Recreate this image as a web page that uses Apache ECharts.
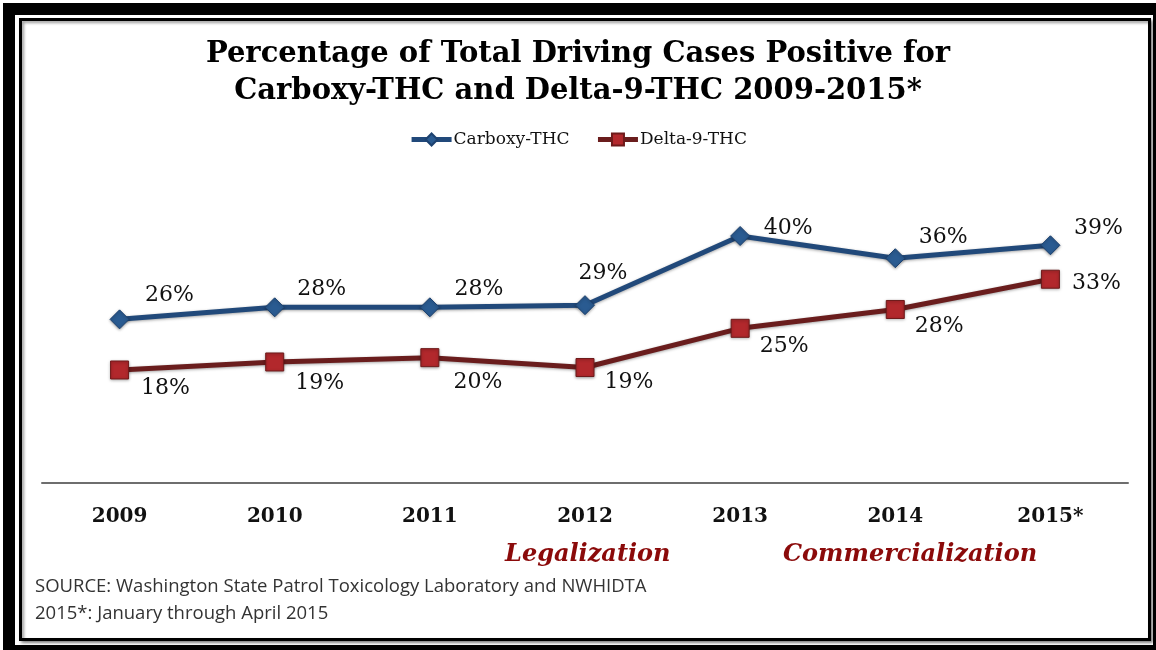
<!DOCTYPE html>
<html>
<head>
<meta charset="utf-8">
<script src="https://cdn.jsdelivr.net/npm/echarts@6/dist/echarts.min.js"></script>
<style>html,body{margin:0;padding:0;background:#fff}#c{width:1156px;height:650px}</style>
</head>
<body>
<div id="c"></div>
<script>
// ---- data ----
const years = ['2009', '2010', '2011', '2012', '2013', '2014', '2015*'];
const carboxyTHC = [26.5, 28.45, 28.45, 28.8, 40.0, 36.4, 38.5];
const delta9THC = [18.3, 19.6, 20.3, 18.7, 25.05, 28.1, 33.0];
const carboxyLabels = ['26%', '28%', '28%', '29%', '40%', '36%', '39%'];
const deltaLabels = ['18%', '19%', '20%', '19%', '25%', '28%', '33%'];
const titleLines = ['Percentage of Total Driving Cases Positive for', 'Carboxy-THC and Delta-9-THC 2009-2015*'];
const sourceLines = ['SOURCE: Washington State Patrol Toxicology Laboratory and NWHIDTA', '2015*: January through April 2015'];

// ---- label placement (style only) ----
const carboxyOffsets = [[50,-24],[47,-18],[49,-18],[18,-32],[48,-8],[48,-21],[48,-17]];
const deltaOffsets = [[46,18],[45,21],[48,25],[44,15],[44,18],[44,17],[46,4]];

const chart = echarts.init(document.getElementById('c'), null, {renderer: 'canvas'});
const serif = '"DejaVu Serif", "Liberation Serif", serif';
const labelFont = {fontFamily: serif, fontSize: 22, color: '#111'};

function mkData(vals, labels, offs) {
  return vals.map((v, i) => ({
    value: v,
    label: {show: true, formatter: labels[i], position: 'inside', offset: offs[i], ...labelFont}
  }));
}

const annStyle = {font: 'italic bold 24px ' + serif, fill: '#8b0a0a', shadowBlur: 2, shadowColor: 'rgba(0,0,0,0.5)', shadowOffsetX: 1, shadowOffsetY: 1};

chart.setOption({
  backgroundColor: '#fff',
  animation: false,
  graphic: [
    {type: 'rect', z: -10, shape: {x: 3, y: 3, width: 1153, height: 647}, style: {fill: '#000'}},
    {type: 'rect', z: -9, shape: {x: 15, y: 15, width: 1138, height: 630}, style: {fill: '#fff'}},
    {type: 'rect', z: -8, shape: {x: 20.5, y: 19.5, width: 1129, height: 620}, style: {fill: '#fff', stroke: '#000', lineWidth: 3, shadowBlur: 3, shadowColor: 'rgba(0,0,0,0.4)', shadowOffsetX: 2, shadowOffsetY: 2}},
    {type: 'text', left: 'center', top: 40, style: {text: titleLines[0], font: 'bold 29px ' + serif, fill: '#000'}},
    {type: 'text', left: 'center', top: 77, style: {text: titleLines[1], font: 'bold 29px ' + serif, fill: '#000'}},
    {type: 'text', left: 505, top: 543, style: Object.assign({text: 'Legalization'}, annStyle)},
    {type: 'text', left: 783, top: 543, style: Object.assign({text: 'Commercialization'}, annStyle)},
    {type: 'text', left: 35, top: 573, style: {text: sourceLines.join('\n'), font: '18.5px "Open Sans", sans-serif', fill: '#333', lineHeight: 27}}
  ],
  legend: {
    top: 126,
    left: 'center',
    itemWidth: 40,
    itemHeight: 15,
    itemGap: 26,
    lineStyle: {width: 5},
    textStyle: {fontFamily: serif, fontSize: 17, color: '#111', padding: [0, 0, 0, -3]},
    data: ['Carboxy-THC', 'Delta-9-THC']
  },
  grid: {left: 42, right: 28, top: 174.25, bottom: 167},
  xAxis: {
    type: 'category',
    data: years,
    boundaryGap: true,
    axisLine: {lineStyle: {color: '#6e6e6e', width: 2}},
    axisTick: {show: false},
    axisLabel: {margin: 24, fontFamily: serif, fontWeight: 'bold', fontSize: 20, color: '#111'}
  },
  yAxis: {
    type: 'value', min: 0, max: 50, show: false, splitLine: {show: false}
  },
  series: [
    {
      name: 'Carboxy-THC',
      type: 'line',
      data: mkData(carboxyTHC, carboxyLabels, carboxyOffsets),
      symbol: 'diamond',
      symbolSize: [19, 19],
      lineStyle: {color: '#21497a', width: 5, shadowBlur: 3, shadowColor: 'rgba(0,0,0,0.35)', shadowOffsetY: 1},
      itemStyle: {color: '#2a5b91', borderColor: '#1d4270', borderWidth: 1, shadowBlur: 3, shadowColor: 'rgba(0,0,0,0.35)', shadowOffsetY: 1}
    },
    {
      name: 'Delta-9-THC',
      type: 'line',
      data: mkData(delta9THC, deltaLabels, deltaOffsets),
      symbol: 'rect',
      symbolSize: [18, 18],
      lineStyle: {color: '#6a1d1d', width: 5, shadowBlur: 3, shadowColor: 'rgba(0,0,0,0.35)', shadowOffsetY: 1},
      itemStyle: {color: '#b2282c', borderColor: '#6e1a1a', borderWidth: 1, shadowBlur: 3, shadowColor: 'rgba(0,0,0,0.35)', shadowOffsetY: 1}
    }
  ]
});
</script>
</body>
</html>
